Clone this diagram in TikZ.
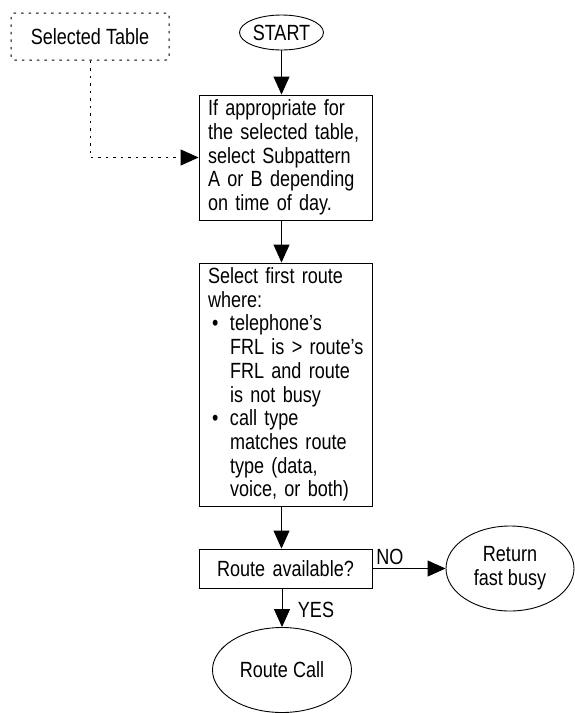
\documentclass[tikz,border=0pt]{standalone}
\usepackage{fontspec}
\setmainfont{Liberation Sans}[FakeStretch=0.82]
\usetikzlibrary{shapes.geometric,arrows.meta}

\begin{document}
\begin{tikzpicture}[x=1pt, y=-1pt,
  every node/.style={font=\fontsize{22}{23.7}\selectfont},
  stepbox/.style={draw, line width=0.9pt, inner xsep=9pt, inner ysep=0pt,
    text width=155pt, align=left},
  endpoint/.style={draw, ellipse, line width=0.9pt, inner sep=0pt, align=center},
  flow/.style={line width=0.9pt, -{Triangle[length=18pt,width=16pt]}},
  dotline/.style={line width=1pt, dash pattern=on 2.5pt off 5pt}]

\useasboundingbox (0,0) rectangle (575,713);

\node[dotline, draw, rounded corners=3pt, minimum width=158pt, minimum height=47pt,
  inner sep=0pt] (table) at (90,36.5) {Selected Table};

\node[endpoint, minimum width=84pt, minimum height=35pt] (start) at (281.5,32.5) {START};

\node[stepbox, minimum height=125pt] (subpat) at (285.5,157.5)
  {If appropriate for\\ the selected table,\\ select Subpattern\\ A or B depending\\ on time of day.};

\node[stepbox, minimum height=243pt] (route) at (285.5,384.5)
  {\parindent=0pt Select first route\newline where:\par
  \hangindent=22pt\hangafter=1\hspace*{4pt}\makebox[18pt][l]{\textbullet}telephone’s\newline
  \mbox{FRL is > route’s}\newline FRL and route\newline is not busy\par
  \hangindent=22pt\hangafter=1\hspace*{4pt}\makebox[18pt][l]{\textbullet}call type\newline
  matches route\newline type (data,\newline voice, or both)\par};

\node[stepbox, align=center, minimum height=39pt] (avail) at (285.5,568.5) {Route available?};

\node[endpoint, minimum width=128pt, minimum height=85pt] (busy) at (510,568.5) {Return\\ fast busy};
\node[endpoint, minimum width=139pt, minimum height=85pt] (call) at (282,670) {Route Call};

\node (no) at (390,557) {NO};
\node (yes) at (316,610) {YES};

% connectors
\draw[flow] (start) -- (start |- subpat.north);
\draw[flow] (subpat.south -| start) -- (route.north -| start);
\draw[flow] (route.south -| start) -- (avail.north -| start);
\draw[flow] (avail.east) -- (busy.west);
\draw[flow] (avail.south -| call) -- (call.north);
\draw[dotline, -{Triangle[length=18pt,width=16pt]}] (table.south) |- (subpat.west);

\end{tikzpicture}
\end{document}
